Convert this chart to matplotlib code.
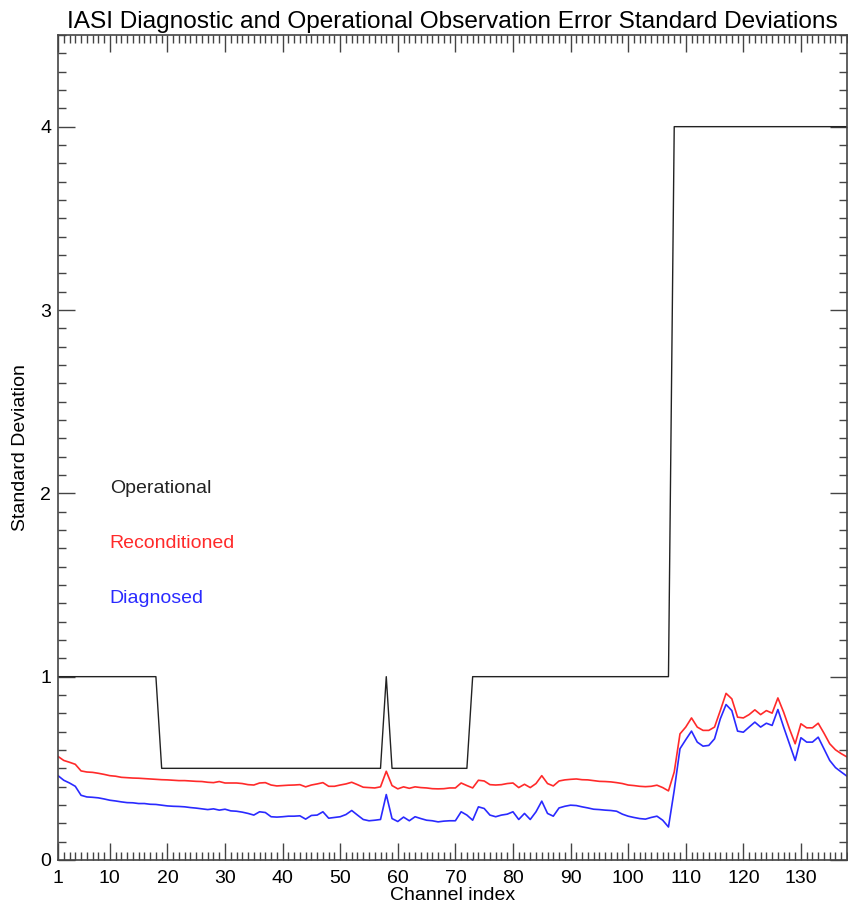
import numpy as np
import matplotlib
matplotlib.use("Agg")
import matplotlib.pyplot as plt
from matplotlib.ticker import FixedLocator, MultipleLocator

plt.rcParams['font.family'] = ['Liberation Sans', 'DejaVu Sans']

# channel index 1..138
channels = list(range(1, 139))

# operational observation error std dev
operational = [
    1.0, 1.0, 1.0, 1.0, 1.0, 1.0, 1.0, 1.0, 1.0, 1.0, 1.0, 1.0, 1.0, 1.0, 1.0, 1.0, 1.0, 1.0,
    0.5, 0.5, 0.5, 0.5, 0.5, 0.5, 0.5, 0.5, 0.5, 0.5, 0.5, 0.5, 0.5, 0.5, 0.5, 0.5, 0.5, 0.5,
    0.5, 0.5, 0.5, 0.5, 0.5, 0.5, 0.5, 0.5, 0.5, 0.5, 0.5, 0.5, 0.5, 0.5, 0.5, 0.5, 0.5, 0.5,
    0.5, 0.5, 0.5, 1.0, 0.5, 0.5, 0.5, 0.5, 0.5, 0.5, 0.5, 0.5, 0.5, 0.5, 0.5, 0.5, 0.5, 0.5,
    1.0, 1.0, 1.0, 1.0, 1.0, 1.0, 1.0, 1.0, 1.0, 1.0, 1.0, 1.0, 1.0, 1.0, 1.0, 1.0, 1.0, 1.0,
    1.0, 1.0, 1.0, 1.0, 1.0, 1.0, 1.0, 1.0, 1.0, 1.0, 1.0, 1.0, 1.0, 1.0, 1.0, 1.0, 1.0,
    4.0, 4.0, 4.0, 4.0, 4.0, 4.0, 4.0, 4.0, 4.0, 4.0, 4.0, 4.0, 4.0, 4.0, 4.0, 4.0, 4.0, 4.0,
    4.0, 4.0, 4.0, 4.0, 4.0, 4.0, 4.0, 4.0, 4.0, 4.0, 4.0, 4.0, 4.0,
]

# reconditioned (red)
reconditioned = [
    0.565, 0.543, 0.533, 0.522, 0.486, 0.480, 0.478, 0.473, 0.467, 0.460,
    0.457, 0.451, 0.449, 0.447, 0.446, 0.444, 0.442, 0.440, 0.438, 0.437,
    0.435, 0.433, 0.433, 0.431, 0.429, 0.428, 0.424, 0.422, 0.428, 0.420,
    0.420, 0.420, 0.417, 0.411, 0.409, 0.420, 0.422, 0.409, 0.404, 0.406,
    0.408, 0.409, 0.411, 0.399, 0.409, 0.415, 0.422, 0.402, 0.402, 0.409,
    0.415, 0.424, 0.411, 0.397, 0.395, 0.393, 0.399, 0.484, 0.406, 0.388,
    0.399, 0.391, 0.399, 0.395, 0.393, 0.389, 0.388, 0.389, 0.393, 0.393,
    0.420, 0.406, 0.393, 0.435, 0.431, 0.411, 0.409, 0.411, 0.417, 0.420,
    0.395, 0.413, 0.395, 0.417, 0.460, 0.417, 0.404, 0.431, 0.437, 0.440,
    0.442, 0.438, 0.437, 0.433, 0.429, 0.428, 0.426, 0.422, 0.417, 0.409,
    0.406, 0.402, 0.400, 0.402, 0.408, 0.395, 0.377, 0.480, 0.688, 0.725,
    0.775, 0.725, 0.707, 0.707, 0.725, 0.815, 0.909, 0.879, 0.779, 0.775,
    0.793, 0.819, 0.793, 0.815, 0.801, 0.884, 0.806, 0.716, 0.634, 0.743,
    0.721, 0.721, 0.746, 0.692, 0.634, 0.601, 0.580, 0.562,
]

# diagnosed (blue)
diagnosed = [
    0.460, 0.435, 0.420, 0.402, 0.353, 0.344, 0.342, 0.339, 0.333, 0.326,
    0.322, 0.317, 0.313, 0.312, 0.308, 0.308, 0.304, 0.303, 0.299, 0.295,
    0.293, 0.292, 0.290, 0.286, 0.283, 0.279, 0.275, 0.279, 0.272, 0.277,
    0.268, 0.266, 0.261, 0.254, 0.245, 0.263, 0.259, 0.236, 0.234, 0.236,
    0.239, 0.239, 0.241, 0.223, 0.243, 0.245, 0.263, 0.228, 0.232, 0.236,
    0.248, 0.270, 0.245, 0.221, 0.214, 0.217, 0.221, 0.357, 0.226, 0.210,
    0.234, 0.214, 0.236, 0.226, 0.217, 0.214, 0.208, 0.212, 0.214, 0.214,
    0.263, 0.245, 0.217, 0.290, 0.281, 0.245, 0.236, 0.245, 0.250, 0.263,
    0.221, 0.254, 0.221, 0.263, 0.321, 0.254, 0.239, 0.284, 0.293, 0.299,
    0.297, 0.290, 0.284, 0.277, 0.275, 0.272, 0.270, 0.266, 0.250, 0.239,
    0.232, 0.226, 0.223, 0.232, 0.239, 0.217, 0.180, 0.380, 0.607, 0.656,
    0.703, 0.643, 0.621, 0.625, 0.661, 0.770, 0.848, 0.815, 0.703, 0.697,
    0.725, 0.752, 0.725, 0.746, 0.734, 0.821, 0.725, 0.634, 0.543, 0.667,
    0.643, 0.643, 0.670, 0.607, 0.543, 0.504, 0.480, 0.457,
]

xticks = [1, 10, 20, 30, 40, 50, 60, 70, 80, 90, 100, 110, 120, 130]

fig = plt.figure(figsize=(8.48, 9.07), dpi=100)
ax = fig.add_axes([58 / 848, 47 / 907, 789 / 848, 825 / 907])

ax.plot(channels, operational, color='#222222', lw=1.0)
ax.plot(channels, reconditioned, color='#ff2a2a', lw=1.2)
ax.plot(channels, diagnosed, color='#2a2aff', lw=1.2)

ax.set_xlim(1, 138)
ax.set_ylim(0, 4.5)

ax.xaxis.set_major_locator(FixedLocator(xticks))
ax.xaxis.set_minor_locator(MultipleLocator(1))
ax.yaxis.set_major_locator(FixedLocator([0, 1, 2, 3, 4]))
ax.yaxis.set_minor_locator(MultipleLocator(0.1))

ax.tick_params(which='both', direction='in', top=True, right=True,
               color='#444444', width=1.0, labelsize=14)
ax.tick_params(which='major', length=12)
ax.tick_params(which='minor', length=6)
ax.tick_params(axis='x', which='major', pad=7)
ax.tick_params(axis='y', which='major', pad=5)
for s in ax.spines.values():
    s.set_color('#444444')
    s.set_linewidth(1.2)

ax.set_xlabel('Channel index', fontsize=14, labelpad=0)
ax.set_ylabel('Standard Deviation', fontsize=14, labelpad=8)
ax.set_title('IASI Diagnostic and Operational Observation Error Standard Deviations',
             fontsize=17.6, pad=5)

ax.text(10, 2.0, 'Operational', color='#222222', fontsize=14)
ax.text(10, 1.7, 'Reconditioned', color='#ff2a2a', fontsize=14)
ax.text(10, 1.4, 'Diagnosed', color='#2a2aff', fontsize=14)

fig.savefig('out.png', dpi=100)
